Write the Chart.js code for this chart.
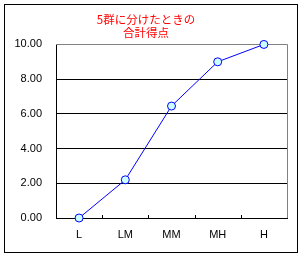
<!DOCTYPE html>
<html><head><meta charset="utf-8">
<script src="https://cdn.jsdelivr.net/npm/chart.js@4/dist/chart.umd.min.js"></script>
<style>
html,body{margin:0;padding:0;background:#fff;width:304px;height:258px;overflow:hidden}
#frame{position:absolute;left:4px;top:4px;width:292px;height:247px;border:1px solid #000}
canvas{display:block}
</style></head><body>
<div id="frame"><canvas id="c" width="292" height="247"></canvas></div>
<script>
const categories = ["L", "LM", "MM", "MH", "H"];
const totalScore = [0, 2.2, 6.45, 9.0, 10.0];
const titleLines = ["5群に分けたときの", "合計得点"];

const frameLines = {
  id: 'frameLines',
  beforeDatasetsDraw(chart) {
    const {ctx, chartArea: a, scales: {x}} = chart;
    ctx.save();
    ctx.strokeStyle = '#808080';
    ctx.lineWidth = 1;
    ctx.beginPath();
    ctx.moveTo(a.left, Math.round(a.top) + 0.5);
    ctx.lineTo(Math.round(a.right) + 0.5, Math.round(a.top) + 0.5);
    ctx.lineTo(Math.round(a.right) + 0.5, a.bottom);
    ctx.stroke();
    ctx.strokeStyle = '#000';
    ctx.beginPath();
    for (let i = 0; i < categories.length - 1; i++) {
      const px = Math.round((x.getPixelForTick(i) + x.getPixelForTick(i + 1)) / 2) + 0.5;
      ctx.moveTo(px, a.bottom);
      ctx.lineTo(px, a.bottom - 3);
    }
    ctx.stroke();
    ctx.restore();
  }
};

new Chart(document.getElementById('c'), {
  type: 'line',
  data: {
    labels: categories,
    datasets: [{
      data: totalScore,
      borderColor: '#0000ff',
      borderWidth: 1,
      pointRadius: 4,
      pointBackgroundColor: '#ccffff',
      pointBorderColor: '#0000ff',
      pointBorderWidth: 1,
      tension: 0,
      clip: false
    }]
  },
  options: {
    responsive: false,
    animation: false,
    events: [],
    layout: {padding: {left: 0, right: 10, top: 0, bottom: 0}},
    plugins: {
      legend: {display: false},
      tooltip: {enabled: false},
      title: {
        display: true,
        text: titleLines,
        color: '#ff0000',
        font: {family: '"Noto Sans CJK JP"', size: 11.5, weight: 'normal', lineHeight: 1.15},
        padding: {top: 8, bottom: 5}
      }
    },
    scales: {
      x: {
        offset: true,
        grid: {display: false, drawTicks: false},
        border: {display: true, color: '#000', width: 1},
        ticks: {color: '#000', padding: 10, font: {family: '"Liberation Sans"', size: 11}},
        afterFit(s) { s.height = 34; }
      },
      y: {
        min: 0, max: 10,
        grid: {
          color: (c) => c.tick && c.tick.value === 10 ? '#808080' : '#000',
          lineWidth: 1,
          drawTicks: false
        },
        border: {display: true, color: '#000', width: 1},
        ticks: {
          stepSize: 2, color: '#000', padding: 14,
          font: {family: '"Liberation Sans"', size: 11},
          callback: (v) => Number(v).toFixed(2)
        },
        afterFit(s) { s.width = 51; }
      }
    }
  },
  plugins: [frameLines]
});
</script>
</body></html>
